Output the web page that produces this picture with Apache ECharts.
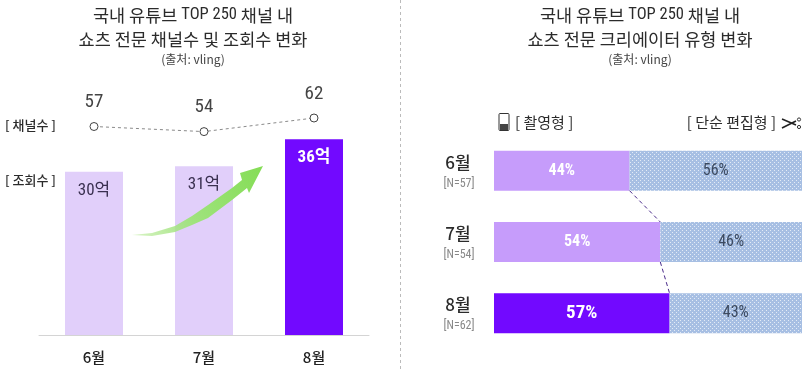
<!DOCTYPE html>
<html>
<head>
<meta charset="utf-8">
<style>
  html, body { margin: 0; padding: 0; background: #fff; }
  #chart { width: 805px; height: 372px; }
</style>
<script src="https://cdn.jsdelivr.net/npm/echarts@6/dist/echarts.min.js"></script>
</head>
<body>
<div id="chart"></div>
<script>
// 왼쪽 차트
const months = ['6월', '7월', '8월'];
const viewCounts = [30, 31, 36];
const channelCounts = [57, 54, 62];
// 오른쪽 차트
const sampleLabels = ['[N=57]', '[N=54]', '[N=62]'];
const shootShare = [44, 54, 57];
const editShare = [56, 46, 43];

const KR = '"Noto Sans CJK KR", sans-serif';
const NUM = '"Liberation Sans Narrow", "Roboto Condensed", Roboto, "Noto Sans CJK KR", sans-serif';
const INK = '#2b2b2b';

// 단순 편집형 막대의 점무늬
const dots = document.createElement('canvas');
dots.width = 4;
dots.height = 4;
const dotCtx = dots.getContext('2d');
dotCtx.fillStyle = '#a7bfe3';
dotCtx.fillRect(0, 0, 4, 4);
dotCtx.fillStyle = '#e3ebf6';
dotCtx.fillRect(0, 0, 1, 1);
dotCtx.fillRect(2, 2, 1, 1);

const chart = echarts.init(document.getElementById('chart'), null, { renderer: 'canvas' });

const titleRich = {
  a: { fontFamily: KR, fontSize: 17.5, color: INK },
  b: { fontFamily: NUM, fontSize: 16.5, color: INK }
};

const titleBlock = (x, line1, line2) => [
  { type: 'text', x, y: 15, style: { text: line1, rich: titleRich, fill: INK, align: 'center', verticalAlign: 'middle' } },
  { type: 'text', x, y: 39, style: { text: line2, font: '400 17.5px ' + KR, fill: INK, align: 'center', verticalAlign: 'middle' } },
  { type: 'text', x, y: 59, style: { text: '(출처: vling)', font: '400 12px ' + KR, fill: '#444', align: 'center', verticalAlign: 'middle' } }
];

const label = (x, y, text, align, font) => ({
  type: 'text', x, y, style: { text, font: font || ('500 13px ' + KR), fill: INK, align: align || 'left', verticalAlign: 'middle' }
});

chart.setOption({
  animation: false,
  backgroundColor: '#fff',
  grid: [
    { left: 39, width: 330, top: 80, height: 255 },
    { left: 39, width: 330, top: 104.4, height: 34 },
    { left: 494, width: 308, top: 135, height: 214 }
  ],
  xAxis: [
    {
      gridIndex: 0, type: 'category', data: months,
      axisLine: { lineStyle: { color: '#d4d4d4' } }, axisTick: { show: false },
      axisLabel: { color: '#222', fontFamily: KR, fontSize: 15, fontWeight: 500, margin: 15 }
    },
    { gridIndex: 1, type: 'category', data: months, show: false },
    { gridIndex: 2, type: 'value', min: 0, max: 100, show: false }
  ],
  yAxis: [
    { gridIndex: 0, type: 'value', min: 0, max: 46.875, show: false },
    { gridIndex: 1, type: 'value', min: 50, max: 70, show: false },
    { gridIndex: 2, type: 'category', data: months, inverse: true, show: false }
  ],
  series: [
    {
      type: 'bar', xAxisIndex: 0, yAxisIndex: 0, barWidth: 58,
      data: viewCounts.map((v, i) => ({
        value: v,
        itemStyle: { color: i === 2 ? '#7209ff' : '#e1cffa' },
        label: i === 2
          ? { color: '#fff', fontWeight: 700, fontSize: 17 }
          : { color: '#3a3050', fontWeight: 400, fontSize: 17 }
      })),
      label: { show: true, position: 'insideTop', distance: 10, formatter: '{c}억', fontFamily: NUM }
    },
    {
      type: 'line', xAxisIndex: 1, yAxisIndex: 1, data: channelCounts,
      symbol: 'circle', symbolSize: 8,
      lineStyle: { color: '#8a8a8a', width: 1, type: [3, 3] },
      itemStyle: { color: '#fff', borderColor: '#444', borderWidth: 1 },
      label: { show: true, position: 'top', distance: 10, color: '#444', fontFamily: NUM, fontSize: 19 }
    },
    {
      type: 'bar', xAxisIndex: 2, yAxisIndex: 2, stack: 'share', barWidth: 40,
      data: shootShare.map((v, i) => ({
        value: v,
        itemStyle: { color: i === 2 ? '#7209ff' : '#c69cfb' },
        label: { fontSize: i === 2 ? 19 : 16 }
      })),
      label: { show: true, position: 'inside', formatter: '{c}%', color: '#fff', fontFamily: NUM, fontWeight: 700 }
    },
    {
      type: 'bar', xAxisIndex: 2, yAxisIndex: 2, stack: 'share', barWidth: 40,
      data: editShare,
      itemStyle: { color: { image: dots, repeat: 'repeat' } },
      label: { show: true, position: 'inside', formatter: '{c}%', color: '#3c4a60', fontFamily: NUM, fontSize: 16 }
    },
    {
      // 막대 끝을 잇는 점선
      type: 'custom', xAxisIndex: 2, yAxisIndex: 2, silent: true, z: 5,
      data: shootShare.slice(0, 2).map((v, i) => [v, i, shootShare[i + 1], i + 1]),
      renderItem: (params, api) => {
        const from = api.coord([api.value(0), api.value(1)]);
        const to = api.coord([api.value(2), api.value(3)]);
        return {
          type: 'line',
          shape: { x1: from[0], y1: from[1] + 20, x2: to[0], y2: to[1] - 20 },
          style: { stroke: '#4a2b8a', lineWidth: 1, lineDash: [4, 3] }
        };
      }
    }
  ],
  graphic: [
    ...titleBlock(193, '{a|국내 유튜브 }{b|TOP 250}{a| 채널 내}', '쇼츠 전문 채널수 및 조회수 변화'),
    ...titleBlock(640, '{a|국내 유튜브 }{b|TOP 250}{a| 채널 내}', '쇼츠 전문 크리에이터 유형 변화'),
    label(5, 125, '[ 채널수 ]'),
    label(5, 180, '[ 조회수 ]'),
    label(515, 122, '[ 촬영형 ]', 'left', '400 15px ' + KR),
    label(776, 122, '[ 단순 편집형 ]', 'right', '400 15px ' + KR),
    ...months.map((m, i) => label(458, 163 + i * 71, m, 'center', '500 17px ' + KR)),
    ...sampleLabels.map((s, i) => label(459, 183.5 + i * 71, s, 'center', '400 12px ' + NUM)).map(t => {
      t.style.fill = '#888';
      return t;
    }),
    // 구분선
    { type: 'line', shape: { x1: 400.5, y1: 0, x2: 400.5, y2: 372 }, style: { stroke: '#bbb', lineWidth: 1, lineDash: [3, 3] } },
    // 초록 화살표
    {
      type: 'polygon', z: 10,
      shape: { points: [[132, 235], [152, 233], [175, 226], [192, 216], [208, 205], [232, 188], [242, 180], [240, 173], [263, 166], [249, 193], [247, 188], [232, 200], [208, 218], [192, 225], [175, 232], [152, 236]] },
      style: {
        fill: new echarts.graphic.LinearGradient(0, 1, 1, 0, [
          { offset: 0, color: 'rgba(170,230,130,0.45)' },
          { offset: 0.4, color: '#a0e37e' },
          { offset: 1, color: '#84dd55' }
        ])
      }
    },
    // 휴대폰 아이콘
    { type: 'rect', shape: { x: 499, y: 113.5, width: 10, height: 17, r: 1 }, style: { fill: '#fff', stroke: '#333', lineWidth: 1 } },
    { type: 'rect', shape: { x: 500, y: 124, width: 8, height: 6 }, style: { fill: '#444' } },
    // 가위 아이콘
    { type: 'line', shape: { x1: 782, y1: 119, x2: 796, y2: 125 }, style: { stroke: '#222', lineWidth: 1.6 } },
    { type: 'line', shape: { x1: 782, y1: 128, x2: 796, y2: 121 }, style: { stroke: '#222', lineWidth: 1.6 } },
    { type: 'circle', shape: { cx: 799, cy: 119.5, r: 1.6 }, style: { fill: '#fff', stroke: '#333' } },
    { type: 'circle', shape: { cx: 799, cy: 127, r: 1.6 }, style: { fill: '#fff', stroke: '#333' } }
  ]
});
</script>
</body>
</html>
